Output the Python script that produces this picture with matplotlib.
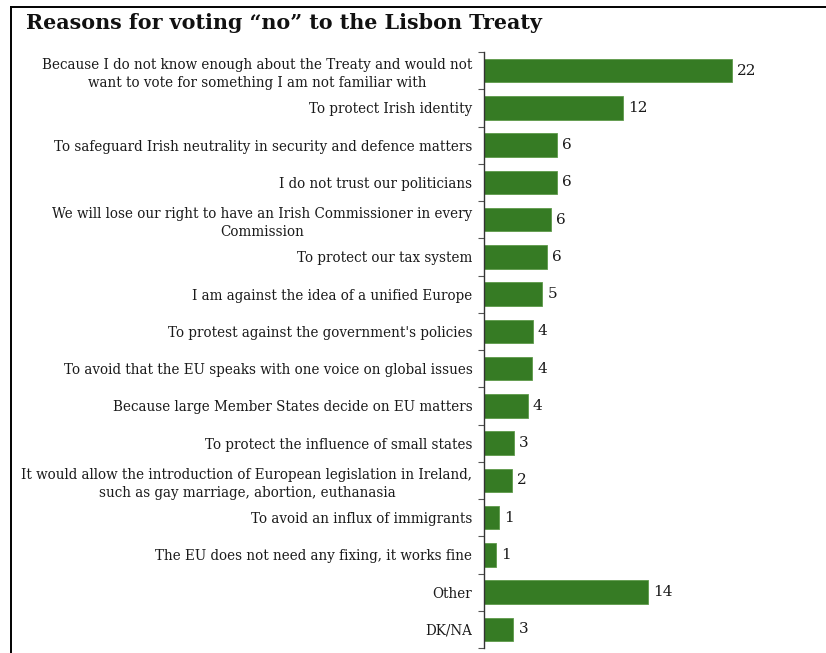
import matplotlib
matplotlib.use("Agg")
import matplotlib.pyplot as plt
from matplotlib.lines import Line2D
import numpy as np

title = "Reasons for voting \u201cno\u201d to the Lisbon Treaty"

categories = [
    "Because I do not know enough about the Treaty and would not\nwant to vote for something I am not familiar with",
    "To protect Irish identity",
    "To safeguard Irish neutrality in security and defence matters",
    "I do not trust our politicians",
    "We will lose our right to have an Irish Commissioner in every\nCommission",
    "To protect our tax system",
    "I am against the idea of a unified Europe",
    "To protest against the government's policies",
    "To avoid that the EU speaks with one voice on global issues",
    "Because large Member States decide on EU matters",
    "To protect the influence of small states",
    "It would allow the introduction of European legislation in Ireland,\nsuch as gay marriage, abortion, euthanasia",
    "To avoid an influx of immigrants",
    "The EU does not need any fixing, it works fine",
    "Other",
    "DK/NA",
]
values = [21.9, 12.3, 6.46, 6.46, 5.93, 5.55, 5.13, 4.28, 4.22, 3.84, 2.63, 2.45, 1.30, 1.04, 14.46, 2.57]
value_labels = ["22", "12", "6", "6", "6", "6", "5", "4", "4", "4", "3", "2", "1", "1", "14", "3"]

FONT = "DejaVu Serif"
W, H = 826, 653
fig = plt.figure(figsize=(W / 100, H / 100), dpi=100)
fig.patch.set_facecolor("white")

ax_left, ax_right = 484.3, 800.7
ax_top, ax_bot = 52, 648
ax = fig.add_axes([ax_left / W, 1 - ax_bot / H, (ax_right - ax_left) / W, (ax_bot - ax_top) / H])

n = len(categories)
y = np.arange(n)
ax.barh(y, values, height=0.63, color="#367B24", edgecolor="#5E9A4A", linewidth=0.6, zorder=2)
ax.set_ylim(n - 0.5, -0.5)
ax.set_xlim(0, 28)

for yi, v, lab in zip(y, values, value_labels):
    ax.text(v + 0.45, yi, lab, va="center", ha="left", fontsize=11, family=FONT, color="#1a1a1a")

ax.set_yticks(y)
ax.set_yticklabels(categories, fontsize=9.75, family=FONT, color="#1a1a1a")
for t in ax.get_yticklabels():
    t.set_multialignment("center")
    t.set_linespacing(1.35)
ax.tick_params(axis="y", which="major", length=0, pad=8.5)
ax.set_yticks(np.arange(n + 1) - 0.5, minor=True)
ax.tick_params(axis="y", which="minor", length=4, width=0.8, color="#555555", direction="out")
ax.set_xticks([])
for s in ["top", "right", "bottom"]:
    ax.spines[s].set_visible(False)
ax.spines["left"].set_color("#333333")
ax.spines["left"].set_linewidth(1.0)

fig.text(26 / W, 1 - 23 / H, title, fontsize=14.9, fontweight="bold", family=FONT,
         va="center", ha="left", color="#111111")

fig.add_artist(Line2D([11 / W, 1.0], [1 - 7 / H, 1 - 7 / H], transform=fig.transFigure, color="black", linewidth=1.4))
fig.add_artist(Line2D([11 / W, 11 / W], [1 - 7 / H, 0.0], transform=fig.transFigure, color="black", linewidth=1.4))

fig.savefig("out.png", dpi=100, facecolor="white")
